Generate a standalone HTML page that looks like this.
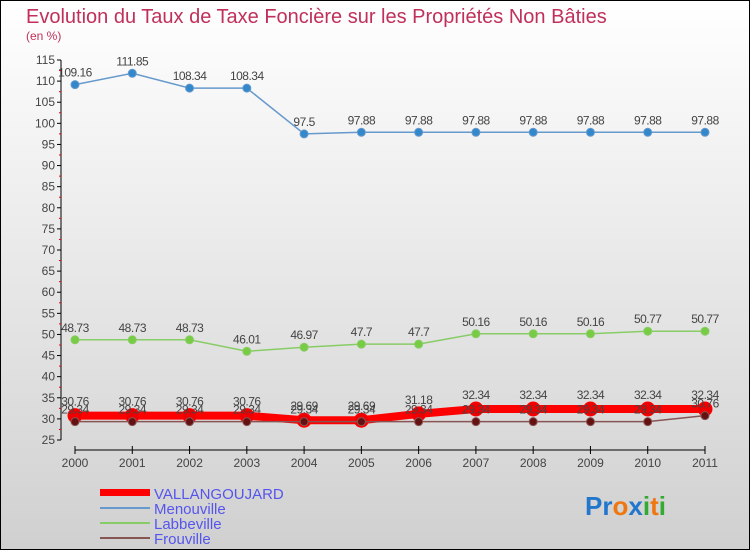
<!DOCTYPE html>
<html><head><meta charset="utf-8">
<style>
body{margin:0}
#c{width:750px;height:550px;position:relative;overflow:hidden;font-family:"Liberation Sans",sans-serif}
</style></head>
<body>
<div id="c">
<svg id="s" width="750" height="550" xmlns="http://www.w3.org/2000/svg">
<defs><linearGradient id="bg" x1="0" y1="0" x2="0" y2="1"><stop offset="0" stop-color="#ffffff"/><stop offset="1" stop-color="#d0d0d0"/></linearGradient></defs>
<rect x="0.5" y="0.5" width="749" height="549" fill="url(#bg)" stroke="#000"/>
<text x="26" y="23" font-size="20" fill="#c0305a">Evolution du Taux de Taxe Foncière sur les Propriétés Non Bâties</text>
<text x="26" y="40" font-size="12" fill="#c0305a">(en %)</text>
<g id="axes"></g><g id="series"></g><g id="labels"></g>
<g>
<rect x="100" y="489" width="50" height="7" fill="#ff0000"/>
<text x="154" y="499" font-size="15" fill="#5555ee">VALLANGOUJARD</text>
<line x1="100" y1="508" x2="150" y2="508" stroke="#6699cc" stroke-width="2"/>
<text x="154" y="514" font-size="15" fill="#5555ee">Menouville</text>
<line x1="100" y1="523" x2="150" y2="523" stroke="#88cc66" stroke-width="2"/>
<text x="154" y="529" font-size="15" fill="#5555ee">Labbeville</text>
<line x1="100" y1="538" x2="150" y2="538" stroke="#885555" stroke-width="2"/>
<text x="154" y="544" font-size="15" fill="#5555ee">Frouville</text>
</g>
<text x="585" y="515" font-size="26" font-weight="bold"><tspan fill="#2277cc">Pr</tspan><tspan fill="#ee7711">o</tspan><tspan fill="#2277cc">x</tspan><tspan fill="#33aa33">i</tspan><tspan fill="#ee7711">t</tspan><tspan fill="#33aa33">i</tspan></text>
</svg>
</div>
<script>
const years=[2000,2001,2002,2003,2004,2005,2006,2007,2008,2009,2010,2011];
const yTicks=[25,30,35,40,45,50,55,60,65,70,75,80,85,90,95,100,105,110,115];
const vallangoujard=[30.76,30.76,30.76,30.76,29.69,29.69,31.18,32.34,32.34,32.34,32.34,32.34];
const menouville=[109.16,111.85,108.34,108.34,97.5,97.88,97.88,97.88,97.88,97.88,97.88,97.88];
const labbeville=[48.73,48.73,48.73,46.01,46.97,47.7,47.7,50.16,50.16,50.16,50.77,50.77];
const frouville=[29.34,29.34,29.34,29.34,29.34,29.34,29.34,29.34,29.34,29.34,29.34,30.76];
const NS="http://www.w3.org/2000/svg";
const xS=i=>75+i*(705-75)/(years.length-1);
const yS=v=>440-(v-25)*(380/90);
function mk(tag,at,parent){const e=document.createElementNS(NS,tag);for(const k in at)e.setAttribute(k,at[k]);parent.appendChild(e);return e;}
const ax=document.getElementById('axes'),se=document.getElementById('series'),lb=document.getElementById('labels');
let yl=mk('line',{x1:61,y1:yS(115),x2:61,y2:yS(25),stroke:'#000'},ax);


yTicks.forEach(t=>{
  mk('line',{x1:57,y1:yS(t),x2:61,y2:yS(t),stroke:'#000'},ax);
  mk('line',{x1:59,y1:yS(t+2.5),x2:61,y2:yS(t+2.5),stroke:t<115?'#e00':'none'},ax);
  const tx=mk('text',{x:55,y:yS(t)+4,'font-size':12,'text-anchor':'end',fill:'#444'},ax);tx.textContent=t;
  
  
});
let xl=mk('line',{x1:75,y1:450,x2:705,y2:450,stroke:'#000'},ax);


years.forEach((y,i)=>{
  mk('line',{x1:xS(i),y1:446,x2:xS(i),y2:454,stroke:'#000'},ax);
  const tx=mk('text',{x:xS(i),y:467,'font-size':12,'text-anchor':'middle',fill:'#444'},ax);tx.textContent=y;
  
  
});
function draw(name,vals,color,w,r,dot,dy){
  const g=mk('g',{},se);
  
  
  mk('polyline',{points:vals.map((v,i)=>xS(i)+','+yS(v)).join(' '),fill:'none',stroke:color,'stroke-width':w},g);
  vals.forEach((v,i)=>{
    const c=mk('circle',{cx:xS(i),cy:yS(v),r:r,fill:dot,stroke:color,'stroke-width':1},g);
    
    
    const t=mk('text',{x:xS(i),y:yS(v)+dy,'font-size':12,'text-anchor':'middle',fill:'#444','letter-spacing':'-0.5'},lb);
    t.textContent=String(v);
    
    
  });
}
draw('menouville',menouville,'#6699cc',1.5,4,'#3388cc',-8);
draw('labbeville',labbeville,'#88cc66',1.5,4,'#77cc44',-8);
draw('vallangoujard',vallangoujard,'#ff0000',8,7,'#ee0000',-10);
draw('frouville',frouville,'#885555',1.5,4,'#661111',-8);
</script>
</body></html>
